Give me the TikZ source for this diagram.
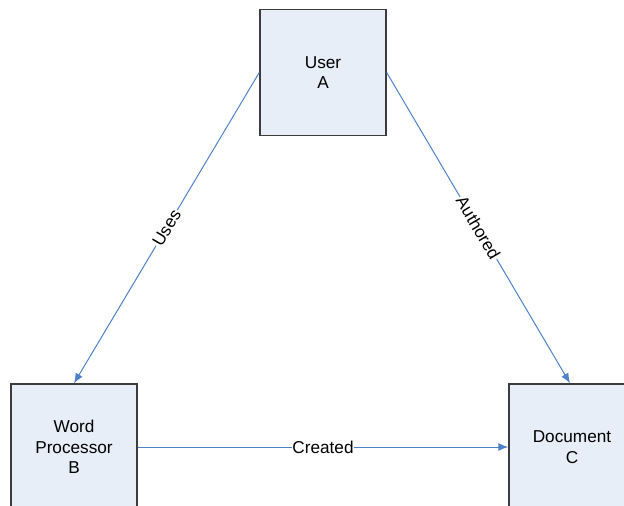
\documentclass[tikz,border=0pt]{standalone}
\usepackage{fontspec}
\setmainfont{Liberation Sans}
\usetikzlibrary{arrows.meta}
\definecolor{boxfill}{RGB}{232,238,248}
\definecolor{boxline}{RGB}{60,60,60}
\definecolor{linkblue}{RGB}{79,129,200}
\newcommand{\fs}{\fontsize{17.2}{20.5}\selectfont}

\begin{document}
\begin{tikzpicture}[x=1pt,y=-1pt,
   entity/.style={draw=boxline, fill=boxfill, line width=1.4pt,
                  minimum width=126pt, minimum height=126pt,
                  align=center, inner sep=0pt, font=\fs},
   link/.style={draw=linkblue, line width=1pt,
                -{Latex[length=10pt,width=8pt]}},
   lbl/.style={fill=white, inner sep=1pt, font=\fs, sloped}]
   \useasboundingbox (0,0) rectangle (624,506);
   \clip (0,0) rectangle (624,506);
   \node[entity] (user) at (323, 72.5) {User\\A};
   \node[entity] (wp)   at ( 74,  447) {Word\\Processor\\B};
   \node[entity] (doc)  at (572,  447) {Document\\C};
   \draw[link] (user.west) -- node[lbl]{Uses} (wp.north);
   \draw[link] (user.east) -- node[lbl]{Authored} ([xshift=-2pt]doc.north);
   \draw[link] (wp.east) -- node[lbl, inner sep=0.5pt]{Created} (doc.west);
\end{tikzpicture}
\end{document}
